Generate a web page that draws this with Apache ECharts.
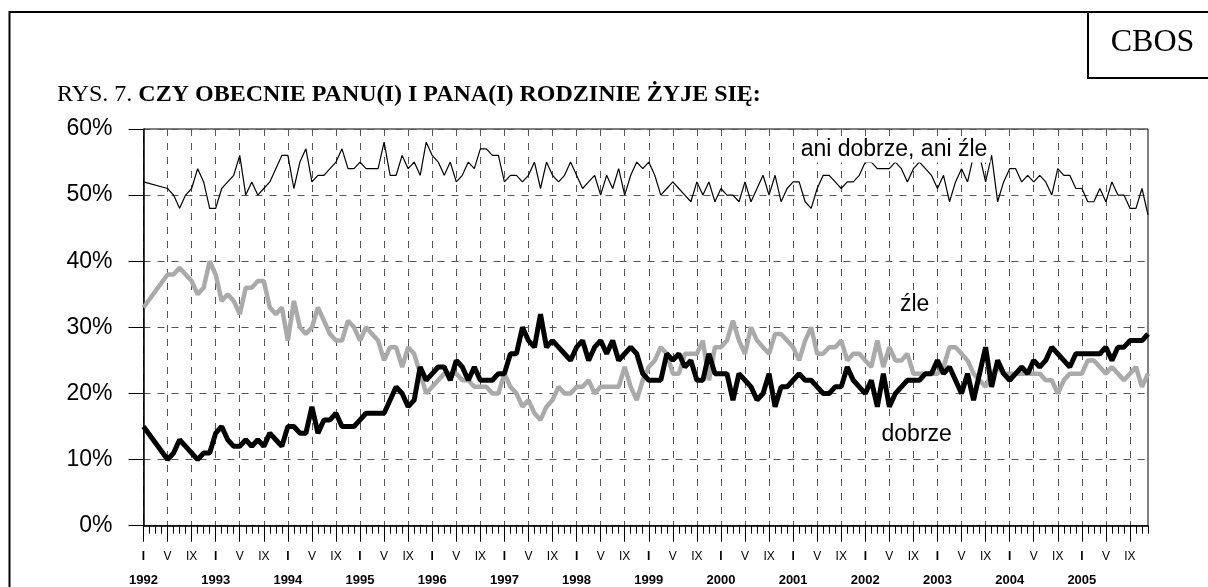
<!DOCTYPE html>
<html>
<head>
<meta charset="utf-8">
<script src="https://cdn.jsdelivr.net/npm/echarts@6/dist/echarts.min.js"></script>
<style>
  html, body { margin: 0; padding: 0; background: #fff; }
  #chart { width: 1208px; height: 587px; }
</style>
</head>
<body>
<div id="chart"></div>
<script>
// lata na osi X, po 12 miesiecy kazdy
var years = [1992, 1993, 1994, 1995, 1996, 1997, 1998, 1999, 2000, 2001, 2002, 2003, 2004, 2005];
// podpisy miesiecy pod osia (co 4 miesiace)
var monthMarks = { 0: 'I', 4: 'V', 8: 'IX' };
var yTicks = [0, 10, 20, 30, 40, 50, 60];

// "ani dobrze, ani źle" - brak badan II-IV 1992
var aniDobrzeAniZle = [
  52, null, null, null, 51, 50, 48, 50, 51, 54, 52, 48,
  48, 51, 52, 53, 56, 50, 52, 50, 51, 52, 54, 56,
  56, 51, 55, 57, 52, 53, 53, 54, 55, 57, 54, 54,
  55, 54, 54, 54, 58, 53, 53, 56, 54, 55, 53, 58,
  56, 55, 53, 55, 52, 53, 55, 54, 57, 57, 56, 56,
  52, 53, 53, 52, 53, 55, 51, 55, 53, 52, 53, 55,
  53, 51, 52, 53, 50, 53, 51, 54, 50, 53, 55, 54,
  55, 53, 50, 51, 52, 51, 50, 49, 52, 50, 52, 49,
  51, 50, 50, 49, 52, 49, 51, 53, 50, 53, 49, 51,
  52, 52, 49, 48, 51, 53, 53, 52, 51, 52, 52, 53,
  55, 55, 54, 54, 54, 55, 54, 52, 54, 55, 54, 53,
  51, 53, 49, 52, 54, 52, 56, 56, 52, 56, 49, 52,
  54, 54, 52, 53, 52, 53, 52, 50, 54, 53, 53, 51,
  51, 49, 49, 51, 49, 52, 50, 50, 48, 48, 51, 47
];

// "źle"
var zle = [
  33, null, null, null, 38, 38, 39, 38, 37, 35, 36, 40,
  38, 34, 35, 34, 32, 36, 36, 37, 37, 33, 32, 33,
  28, 34, 30, 29, 30, 33, 31, 29, 28, 28, 31, 30,
  28, 30, 29, 28, 25, 27, 27, 24, 27, 26, 23, 20,
  21, 22, 23, 23, 23, 22, 22, 21, 21, 21, 20, 20,
  23, 21, 20, 18, 19, 17, 16, 18, 19, 21, 20, 20,
  21, 21, 22, 20, 21, 21, 21, 21, 24, 21, 19, 22,
  24, 25, 27, 26, 23, 23, 26, 26, 26, 28, 22, 27,
  27, 28, 31, 28, 26, 30, 28, 27, 26, 29, 29, 28,
  27, 25, 28, 30, 26, 26, 27, 27, 28, 25, 26, 26,
  25, 24, 28, 24, 27, 25, 25, 26, 23, 23, 23, 23,
  23, 24, 27, 27, 26, 25, 23, 22, 21, 23, 24, 23,
  23, 23, 23, 23, 23, 23, 22, 22, 20, 22, 23, 23,
  23, 25, 25, 24, 23, 24, 23, 22, 23, 24, 21, 23
];

// "dobrze"
var dobrze = [
  15, null, null, null, 10, 11, 13, 12, 11, 10, 11, 11,
  14, 15, 13, 12, 12, 13, 12, 13, 12, 14, 13, 12,
  15, 15, 14, 14, 18, 14, 16, 16, 17, 15, 15, 15,
  16, 17, 17, 17, 17, 19, 21, 20, 18, 19, 24, 22,
  23, 24, 24, 22, 25, 24, 22, 24, 22, 22, 22, 23,
  23, 26, 26, 30, 28, 27, 32, 27, 28, 27, 26, 25,
  27, 28, 25, 27, 28, 26, 28, 25, 26, 27, 26, 23,
  22, 22, 22, 26, 25, 26, 24, 25, 22, 22, 26, 23,
  23, 23, 19, 23, 22, 21, 19, 20, 23, 18, 21, 21,
  22, 23, 22, 22, 21, 20, 20, 21, 21, 24, 22, 21,
  20, 22, 18, 23, 18, 20, 21, 22, 22, 22, 23, 23,
  25, 23, 24, 22, 20, 23, 19, 23, 27, 21, 25, 23,
  22, 23, 24, 23, 25, 24, 25, 27, 26, 25, 24, 26,
  26, 26, 26, 26, 27, 25, 27, 27, 28, 28, 28, 29
];

var months = [];
years.forEach(function (y) {
  for (var m = 0; m < 12; m++) {
    months.push(y + '-' + (m + 1));
  }
});

var sans = 'Liberation Sans, Arial, sans-serif';
var serif = 'Liberation Serif, Times New Roman, serif';

var chart = echarts.init(document.getElementById('chart'), null, { renderer: 'canvas' });

var option = {
  backgroundColor: '#fff',
  animation: false,
  grid: {
    left: 143.5,
    right: 60,
    top: 129,
    bottom: 61.3,
    outerBoundsMode: 'none',
    containLabel: false,
    show: true,
    borderColor: '#000',
    borderWidth: 1
  },
  xAxis: [{
    type: 'category',
    data: months,
    boundaryGap: false,
    position: 'bottom',
    axisLine: { lineStyle: { color: '#000', width: 1.5 } },
    axisTick: { interval: 0, length: 8, lineStyle: { color: '#000' } },
    splitLine: { show: false },
    axisLabel: {
      interval: 3,
      margin: 19,
      color: '#000',
      fontFamily: sans,
      fontSize: 12,
      lineHeight: 24,
      formatter: function (value, idx) {
        var m = idx % 12;
        if (m === 0) {
          return '{b|' + monthMarks[0] + '}\n{y|' + years[Math.floor(idx / 12)] + '}';
        }
        return monthMarks[m] || '';
      },
      rich: {
        b: { fontWeight: 'bold', fontSize: 12, lineHeight: 24, fontFamily: sans, color: '#000' },
        y: { fontWeight: 'bold', fontSize: 13, lineHeight: 24, fontFamily: sans, color: '#000' }
      }
    }
  }, {
    type: 'category',
    data: months,
    boundaryGap: false,
    position: 'bottom',
    offset: 0,
    axisLine: { show: false },
    axisLabel: { show: false },
    axisTick: { interval: 3, length: 16, lineStyle: { color: '#000' } },
    splitLine: {
      show: true,
      interval: 3,
      lineStyle: { color: '#555', type: [7, 7], width: 1 }
    }
  }],
  yAxis: {
    type: 'value',
    min: yTicks[0],
    max: yTicks[yTicks.length - 1],
    interval: 10,
    axisLine: { show: true, lineStyle: { color: '#000', width: 1.5 } },
    axisTick: { show: true, length: 15, lineStyle: { color: '#000' } },
    axisLabel: {
      margin: 31,
      color: '#000',
      fontFamily: sans,
      fontSize: 23,
      formatter: '{value}%'
    },
    splitLine: { lineStyle: { color: '#555', type: [7, 7], width: 1 } }
  },
  series: [{
    name: 'źle',
    type: 'line',
    data: zle,
    connectNulls: true,
    symbol: 'none',
    lineStyle: { color: '#aaaaaa', width: 4.5 },
    z: 2
  }, {
    name: 'ani dobrze, ani źle',
    type: 'line',
    data: aniDobrzeAniZle,
    connectNulls: true,
    symbol: 'none',
    lineStyle: { color: '#000', width: 1.2 },
    z: 3
  }, {
    name: 'dobrze',
    type: 'line',
    data: dobrze,
    connectNulls: true,
    symbol: 'none',
    lineStyle: { color: '#000', width: 5 },
    z: 4
  }],
  graphic: [{
    // ramka calej strony
    type: 'rect',
    shape: { x: 9.5, y: 12, width: 1300, height: 700 },
    style: { fill: 'none', stroke: '#000', lineWidth: 2 },
    z: 50
  }, {
    type: 'rect',
    shape: { x: 1088, y: 12, width: 200, height: 66 },
    style: { fill: 'none', stroke: '#000', lineWidth: 2 },
    z: 50
  }, {
    type: 'text',
    x: 1152.5, y: 43,
    style: { text: 'CBOS', font: '32px ' + serif, fill: '#000', align: 'center', verticalAlign: 'middle' },
    z: 50
  }, {
    type: 'text',
    x: 57, y: 95,
    style: {
      text: '{a|RYS. 7. }{b|CZY OBECNIE PANU(I) I PANA(I) RODZINIE ŻYJE SIĘ:}',
      verticalAlign: 'middle',
      rich: {
        a: { fontFamily: serif, fontSize: 24, fill: '#000' },
        b: { fontFamily: serif, fontSize: 24, fontWeight: 'bold', fill: '#000' }
      }
    },
    z: 50
  }, {
    type: 'text',
    x: 894, y: 150,
    style: {
      text: 'ani dobrze, ani źle', font: '23px ' + sans, fill: '#000',
      align: 'center', verticalAlign: 'middle',
      backgroundColor: '#fff', padding: [1, 3]
    },
    z: 60
  }, {
    type: 'text',
    x: 914.6, y: 305,
    style: {
      text: 'źle', font: '23px ' + sans, fill: '#000',
      align: 'center', verticalAlign: 'middle',
      backgroundColor: '#fff', padding: [2, 8]
    },
    z: 60
  }, {
    type: 'text',
    x: 916.7, y: 435,
    style: {
      text: 'dobrze', font: '23px ' + sans, fill: '#000',
      align: 'center', verticalAlign: 'middle',
      backgroundColor: '#fff', padding: [1, 3]
    },
    z: 60
  }]
};

chart.setOption(option);
</script>
</body>
</html>
